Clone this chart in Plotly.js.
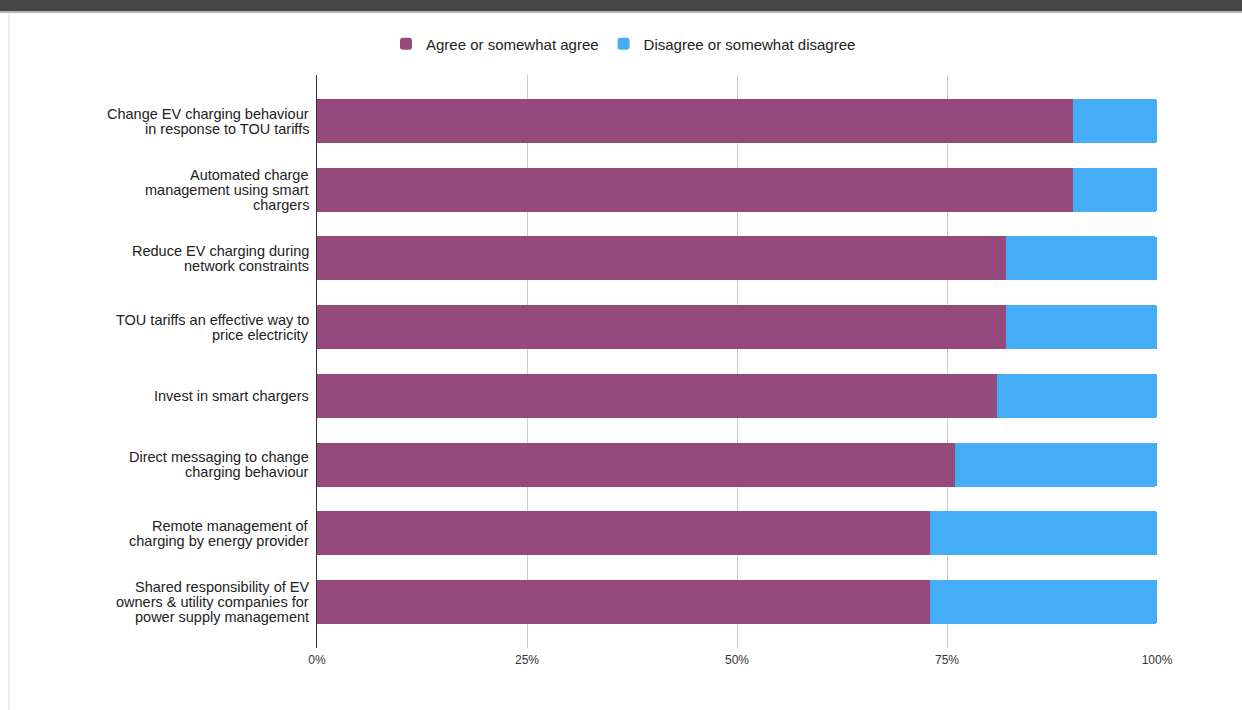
<!DOCTYPE html>
<html>
<head>
<meta charset="utf-8">
<script src="https://cdn.plot.ly/plotly-3.0.1.min.js"></script>
<style>
  html, body { margin: 0; padding: 0; background: #ffffff; }
  body { width: 1242px; height: 710px; position: relative; overflow: hidden; }
  #topbar { position: absolute; left: 0; top: 0; width: 1242px; height: 11px; background: #474747; }
  #topline { position: absolute; left: 0; top: 11px; width: 1242px; height: 2px; background: #b4b4b4; }
  #leftline { position: absolute; left: 8px; top: 13px; width: 2px; height: 697px; background: #ededed; }
  #chart { position: absolute; left: 0; top: 0; width: 1242px; height: 710px; }
</style>
</head>
<body>
<div id="chart"></div>
<div id="topbar"></div>
<div id="topline"></div>
<div id="leftline"></div>
<script>
const categories = [
  "Change EV charging behaviour<br>in response to TOU tariffs",
  "Automated charge<br>management using smart<br>chargers",
  "Reduce EV charging during<br>network constraints",
  "TOU tariffs an effective way to<br>price electricity",
  "Invest in smart chargers",
  "Direct messaging to change<br>charging behaviour",
  "Remote management of<br>charging by energy provider",
  "Shared responsibility of EV<br>owners &amp; utility companies for<br>power supply management"
];
const agree = [90, 90, 82, 82, 81, 76, 73, 73];
const disagree = [10, 10, 18, 18, 19, 24, 27, 27];
const seriesNames = ["Agree or somewhat agree", "Disagree or somewhat disagree"];
const xTicks = [0, 25, 50, 75, 100];
const xTickText = ["0%", "25%", "50%", "75%", "100%"];

const FONT = '"Liberation Sans", Arial, Helvetica, sans-serif';
const LABEL_SIZE = 14.5;
const LINE_STEP = 15;

const data = [
  {
    type: 'bar', orientation: 'h', name: seriesNames[0],
    y: categories, x: agree,
    marker: { color: '#96497b', line: { width: 0 } },
    hoverinfo: 'x+name'
  },
  {
    type: 'bar', orientation: 'h', name: seriesNames[1],
    y: categories, x: disagree,
    marker: { color: '#45adf5', line: { width: 0 } },
    hoverinfo: 'x+name'
  }
];

// Category labels as per-line annotations anchored to the category axis
const annotations = [];
categories.forEach(function (cat) {
  const lines = cat.split('<br>');
  const n = lines.length;
  lines.forEach(function (line, j) {
    annotations.push({
      xref: 'paper', x: 0, xanchor: 'right', xshift: -6,
      yref: 'y', y: cat, yanchor: 'middle',
      yshift: ((n - 1) / 2 - j) * LINE_STEP,
      text: line, showarrow: false, align: 'right',
      font: { family: FONT, size: LABEL_SIZE, color: '#222222' }
    });
  });
});

const layout = {
  width: 1242, height: 710,
  paper_bgcolor: 'rgba(0,0,0,0)', plot_bgcolor: '#ffffff',
  font: { family: FONT, color: '#222222', size: 15 },
  barmode: 'stack',
  bargap: 0.36,
  barcornerradius: 2,
  margin: { l: 317, r: 85, t: 75, b: 62, pad: 0 },
  showlegend: true,
  legend: {
    orientation: 'h', xref: 'container', yref: 'container',
    x: 0.502, xanchor: 'center', y: 0.938, yanchor: 'middle',
    font: { family: FONT, size: 15, color: '#222222' },
    traceorder: 'normal', itemclick: false
  },
  xaxis: {
    range: [0, 100], tickvals: xTicks, ticktext: xTickText,
    showgrid: true, gridcolor: '#cccccc', gridwidth: 1,
    zeroline: false, showline: false, ticks: '',
    ticklabelstandoff: 3,
    tickfont: { family: FONT, size: 12, color: '#333333' },
    fixedrange: true
  },
  yaxis: {
    type: 'category', range: [7.67, -0.67],
    showgrid: false, zeroline: false,
    showline: true, linecolor: '#333333', linewidth: 1,
    ticks: '', showticklabels: false,
    fixedrange: true
  },
  annotations: annotations
};

Plotly.newPlot('chart', data, layout, { displayModeBar: false });
</script>
</body>
</html>
